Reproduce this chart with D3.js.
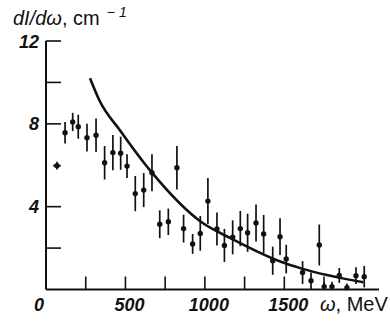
<!DOCTYPE html>
<html><head><meta charset="utf-8">
<script src="https://cdn.jsdelivr.net/npm/d3@7"></script>
<style>body{margin:0;background:#fff}svg{display:block}</style>
</head><body>
<script>
// Data
const omega = [69,120,168,203,258,315,369,421,470,510,562,615,667,716,770,824,866,923,971,1019,1076,1123,1175,1223,1269,1322,1370,1427,1473,1512,1615,1668,1720,1751,1800,1846,1894,1951,2003];
const intensity = [5.98,7.57,8.09,7.86,7.33,7.45,6.12,6.61,6.58,5.96,4.63,4.80,5.64,3.15,3.27,5.88,2.94,2.20,2.71,4.27,2.92,2.13,2.52,2.94,2.74,3.21,2.68,1.39,2.55,1.47,0.82,0.42,2.15,0.14,0.14,0.68,0.09,0.67,0.62];
const errors = [0.19,0.52,0.44,0.58,0.67,0.81,0.81,0.85,0.80,0.57,0.85,0.82,0.89,0.67,0.64,1.05,0.67,0.48,0.84,1.11,0.80,0.80,0.82,0.85,0.92,0.89,0.92,0.68,0.89,0.69,0.55,0.40,0.99,0.23,0.23,0.36,0.20,0.40,0.52];
const omegaErr = [24,0,0,0,0,0,0,0,0,0,0,0,0,0,0,0,0,0,0,0,0,0,0,0,0,0,0,0,0,0,0,0,0,0,0,0,0,0,0];
const curveOmega = [277,335,472,667,975,1164,1479,1605,1997];
const curveIntensity = [10.2,9.15,7.62,5.64,3.27,2.47,1.34,1.02,0.35];
const xTicks = [250,500,750,1000,1250,1500,1750];
const xTickLabels = [0,500,1000,1500];
const yTicks = [2,4,8,10,12];
const yTickLabels = [4,8,12];

const W = 390, H = 322;
const svg = d3.select("body").append("svg").attr("width", W).attr("height", H);
const x = d3.scaleLinear().domain([0, 2096]).range([46, 379]);
const y = d3.scaleLinear().domain([0, 12]).range([289.5, 41]);
const ink = "#111";
const numFont = "'Liberation Sans', Arial, sans-serif";

// axes lines
svg.append("line").attr("x1", x(0)).attr("x2", x(0)).attr("y1", y(12)).attr("y2", y(0))
  .attr("stroke", ink).attr("stroke-width", 2);
svg.append("line").attr("x1", x(0)).attr("x2", x(2096)).attr("y1", y(0)).attr("y2", y(0))
  .attr("stroke", ink).attr("stroke-width", 2);

// y ticks (inward)
svg.selectAll(".yt").data(yTicks).enter().append("line")
  .attr("x1", x(0)).attr("x2", x(0) + 15)
  .attr("y1", d => y(d)).attr("y2", d => y(d))
  .attr("stroke", ink).attr("stroke-width", 1.6);
// x ticks (inward)
svg.selectAll(".xt").data(xTicks).enter().append("line")
  .attr("x1", d => x(d)).attr("x2", d => x(d))
  .attr("y1", y(0)).attr("y2", y(0) - 13)
  .attr("stroke", ink).attr("stroke-width", 1.6);

// tick labels
svg.selectAll(".yl").data(yTickLabels).enter().append("text")
  .attr("x", 39).attr("y", d => y(d) + 6.5)
  .attr("text-anchor", "end")
  .attr("font-family", numFont).attr("font-size", 18)
  .attr("font-weight", "bold").attr("font-style", "italic")
  .attr("fill", ink).text(d => d);
svg.selectAll(".xl").data(xTickLabels).enter().append("text")
  .attr("x", d => x(d) + (d === 0 ? -7 : 4)).attr("y", 311)
  .attr("text-anchor", "middle")
  .attr("font-family", numFont).attr("font-size", 18)
  .attr("font-weight", "bold").attr("font-style", "italic")
  .attr("fill", ink).text(d => d);

// axis titles
const t = svg.append("text").attr("x", 13).attr("y", 25)
  .attr("font-family", numFont).attr("font-size", 20).attr("fill", ink);
t.append("tspan").attr("font-style", "italic").text("dI/dω");
t.append("tspan").text(", cm");
t.append("tspan").attr("dx", 7).attr("dy", -8).attr("font-size", 14).text("−");
t.append("tspan").attr("dx", 4).attr("font-size", 14).attr("font-style", "italic").text("1");

const xt = svg.append("text").attr("x", 320).attr("y", 311)
  .attr("font-family", numFont).attr("font-size", 20).attr("fill", ink);
xt.append("tspan").attr("font-style", "italic").text("ω");
xt.append("tspan").text(", MeV");

// fitted curve
const pts = curveOmega.map((d, i) => [d, curveIntensity[i]]);
svg.append("path").datum(pts)
  .attr("d", d3.line().x(d => x(d[0])).y(d => y(d[1])).curve(d3.curveMonotoneX))
  .attr("fill", "none").attr("stroke", ink).attr("stroke-width", 2.6);

// data points with error bars
const data = omega.map((d, i) => ({w: d, v: intensity[i], e: errors[i], we: omegaErr[i]}));
const g = svg.append("g");
g.selectAll(".eb").data(data).enter().append("line")
  .attr("x1", d => x(d.w)).attr("x2", d => x(d.w))
  .attr("y1", d => y(d.v + d.e)).attr("y2", d => Math.min(y(d.v - d.e), y(0)))
  .attr("stroke", ink).attr("stroke-width", 1.7);
g.selectAll(".ebx").data(data.filter(d => d.we > 0)).enter().append("line")
  .attr("x1", d => x(d.w - d.we)).attr("x2", d => x(d.w + d.we))
  .attr("y1", d => y(d.v)).attr("y2", d => y(d.v))
  .attr("stroke", ink).attr("stroke-width", 1.7);
g.selectAll("circle").data(data).enter().append("circle")
  .attr("cx", d => x(d.w)).attr("cy", d => y(d.v)).attr("r", 2.7)
  .attr("fill", ink);
</script>
</body></html>
